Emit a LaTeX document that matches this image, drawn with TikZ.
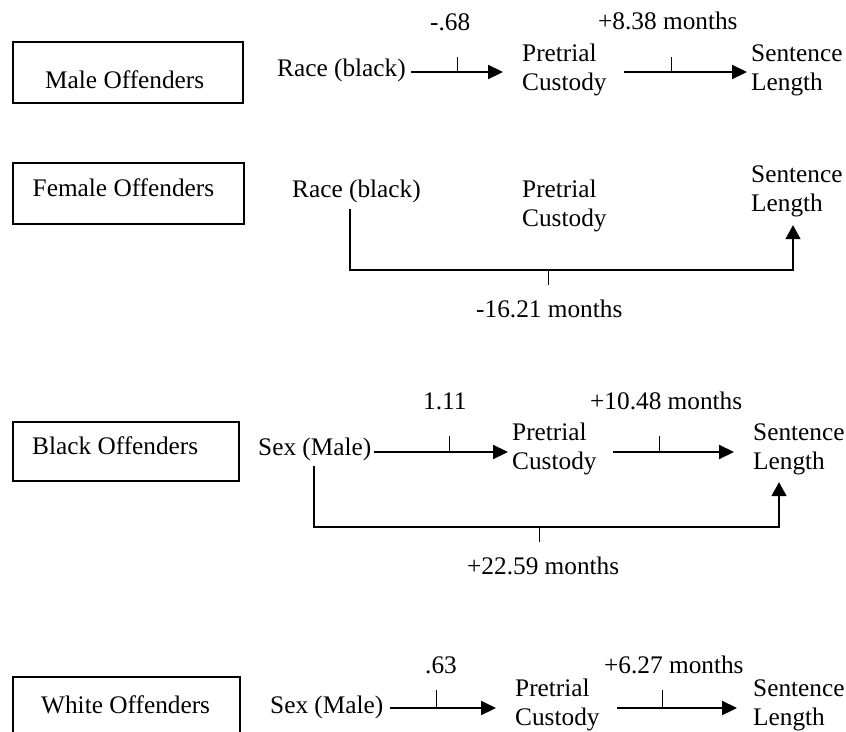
\documentclass[tikz,border=0pt]{standalone}
\usepackage{fontspec}
\setmainfont{Liberation Serif}
\usetikzlibrary{arrows.meta}
\begin{document}
\begin{tikzpicture}[x=1pt,y=-1pt,
  lbl/.style={font=\fontsize{25.3}{29}\selectfont, inner sep=0pt, anchor=base west},
  lbl2/.style={lbl, align=left},
  grp/.style={draw, line width=1.2pt, inner sep=0pt},
  arr/.style={line width=2.2pt, -{Triangle[length=15pt,width=14pt]}},
  brk/.style={line width=1.5pt, -{Triangle[length=14pt,width=15pt]}},
  tick/.style={line width=1pt}]
\useasboundingbox (0,0) rectangle (846,731);
\clip (0,0) rectangle (846,731);

% group boxes
\node[grp, minimum width=230pt, minimum height=61pt] (g1) at (128,72.5) {};
\node[grp, minimum width=231pt, minimum height=61pt] (g2) at (128.5,193.5) {};
\node[grp, minimum width=226pt, minimum height=59pt] (g3) at (126,451.5) {};
\node[grp, minimum width=227pt, minimum height=63pt] (g4) at (126.5,708.5) {};
\node[lbl] (t1) at (45,88) {Male Offenders};
\node[lbl] (t2) at (32.5,196) {Female Offenders};
\node[lbl] (t3) at (32,454) {Black Offenders};
\node[lbl] (t4) at (41,713) {White Offenders};

% row 1 (two-line nodes are placed at the baseline of their last line)
\node[lbl] (x1) at (277,76) {Race (black)};
\node[lbl2] (p1) at (522,90) {Pretrial\\Custody};
\node[lbl2] (s1) at (751,90) {Sentence\\Length};
\node[lbl] (c1a) at (430,30) {-.68};
\node[lbl] (c1b) at (598,29) {+8.38 months};
\coordinate (y1) at (0,72);
\draw[arr, shorten <=5.5pt, shorten >=19pt] (x1.east |- y1) -- (p1.west |- y1);
\draw[arr, shorten <=17.6pt, shorten >=4pt] (p1.east |- y1) -- (s1.west |- y1);
\coordinate (k1a) at (457,72);
\coordinate (k1b) at (671,72);
\draw[tick] (k1a) -- ++(0,-15);
\draw[tick] (k1b) -- ++(0,-15);

% row 2
\node[lbl] (x2) at (292,197) {Race (black)};
\node[lbl2] (p2) at (522,226) {Pretrial\\Custody};
\node[lbl2] (s2) at (751,211) {Sentence\\Length};
\node[lbl] (c2) at (476,317) {-16.21 months};
\coordinate (b2l) at (350,270);
\coordinate (b2r) at (793,270);
\draw[brk, shorten <=6.5pt, shorten >=8.5pt] (x2.south -| b2l) -- (b2l) -- (b2r) -- (s2.south -| b2r);
\coordinate (k2) at (548,270);
\draw[tick] (k2) -- ++(0,15);

% row 3
\node[lbl] (x3) at (258,455) {Sex (Male)};
\node[lbl2] (p3) at (512,469) {Pretrial\\Custody};
\node[lbl2] (s3) at (753,469) {Sentence\\Length};
\node[lbl] (c3a) at (423,409) {1.11};
\node[lbl] (c3b) at (590,409) {+10.48 months};
\node[lbl] (c3c) at (467,574) {+22.59 months};
\coordinate (y3) at (0,452);
\draw[arr, shorten <=2pt, shorten >=4pt] (x3.east |- y3) -- (p3.west |- y3);
\draw[arr, shorten <=16.6pt, shorten >=19pt] (p3.east |- y3) -- (s3.west |- y3);
\coordinate (b3l) at (314,527);
\coordinate (b3r) at (779,527);
\draw[brk, shorten <=5.5pt, shorten >=7.5pt] (x3.south -| b3l) -- (b3l) -- (b3r) -- (s3.south -| b3r);
\coordinate (k3a) at (449,452);
\coordinate (k3b) at (659,452);
\coordinate (k3c) at (539,527);
\draw[tick] (k3a) -- ++(0,-16);
\draw[tick] (k3b) -- ++(0,-16);
\draw[tick] (k3c) -- ++(0,15);

% row 4
\node[lbl] (x4) at (270,713) {Sex (Male)};
\node[lbl2] (p4) at (515,725) {Pretrial\\Custody};
\node[lbl2] (s4) at (753,725) {Sentence\\Length};
\node[lbl] (c4a) at (425,673) {.63};
\node[lbl] (c4b) at (604,673) {+6.27 months};
\coordinate (y4) at (0,708);
\draw[arr, shorten <=6pt, shorten >=19pt] (x4.east |- y4) -- (p4.west |- y4);
\draw[arr, shorten <=17.6pt, shorten >=16pt] (p4.east |- y4) -- (s4.west |- y4);
\coordinate (k4a) at (436,708);
\coordinate (k4b) at (662,708);
\draw[tick] (k4a) -- ++(0,-18);
\draw[tick] (k4b) -- ++(0,-18);
\end{tikzpicture}
\end{document}
